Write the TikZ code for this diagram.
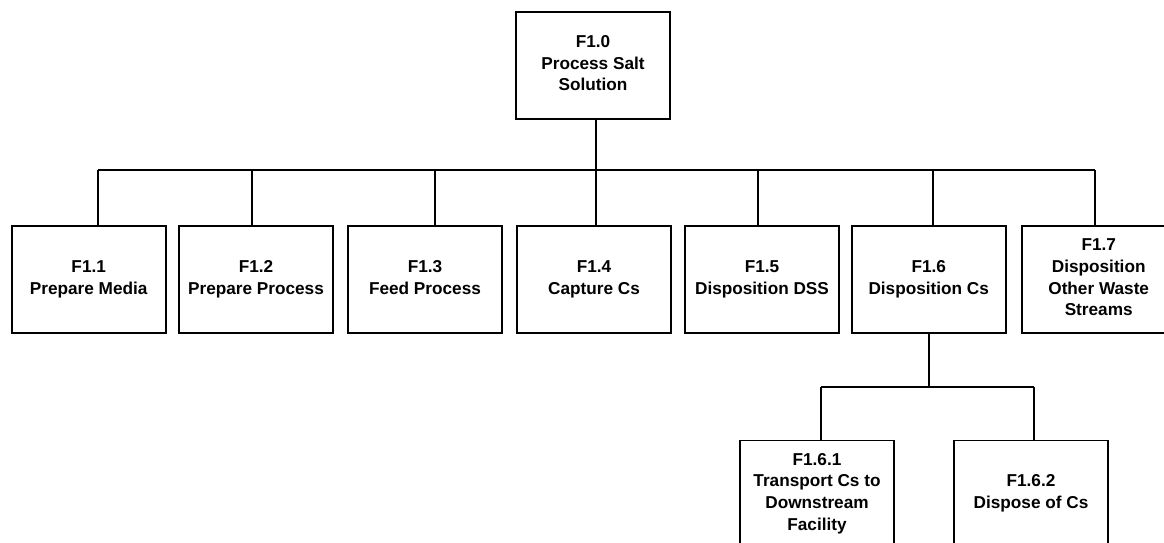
\documentclass[tikz,border=0pt]{standalone}
\usepackage{fontspec}
\setmainfont{Liberation Sans}
\usepackage{tikz}

\begin{document}
\begin{tikzpicture}[x=1pt, y=-1pt,
    box/.style={draw, black, line width=1.8pt, minimum width=154pt, minimum height=107pt,
        inner sep=0pt, align=center, font=\fontsize{17.2}{21.7}\selectfont\bfseries,
        execute at begin node={\rule{0pt}{20pt}},
        execute at end node={\rule[-4.5pt]{0pt}{4.5pt}}},
    link/.style={black, line width=1.6pt}]
    \useasboundingbox (0,0) rectangle (1164,543);
    \node[box] (f10) at (593, 65.5) {F1.0\\Process Salt\\Solution};
    \node[box] (f11) at (88.7, 279.5) {F1.1\\Prepare Media};
    \node[box] (f12) at (256, 279.5) {F1.2\\Prepare Process};
    \node[box] (f13) at (425, 279.5) {F1.3\\Feed Process};
    \node[box] (f14) at (594, 279.5) {F1.4\\Capture Cs};
    \node[box] (f15) at (762, 279.5) {F1.5\\Disposition DSS};
    \node[box] (f16) at (928.7, 279.5) {F1.6\\Disposition Cs};
    \node[box] (f17) at (1098.7, 279.5) {F1.7\\Disposition\\Other Waste\\Streams};
    \node[box] (f161) at (817, 494) {F1.6.1\\Transport Cs to\\Downstream\\Facility};
    \node[box] (f162) at (1031, 494) {F1.6.2\\Dispose of Cs};
    % first level
    \coordinate (bar) at (0, 170);
    \coordinate (df10) at ([xshift=3pt]f10.south);
    \draw[link, line width=2.2pt] (df10) -- (df10 |- bar);
    \foreach \n/\s in {f11/9, f12/-4, f13/10, f14/2, f15/-4, f16/4, f17/-4}
    {
        \coordinate (d\n) at ([xshift=\s pt]\n.north);
        \draw[link] (d\n) -- (d\n |- bar);
    }
    \draw[link] (df11 |- bar) -- (df17 |- bar);
    % second level
    \coordinate (subbar) at (0, 387);
    \draw[link] (f16.south) -- (f16.south |- subbar);
    \foreach \n/\s in {f161/4, f162/3}
    {
        \coordinate (d\n) at ([xshift=\s pt]\n.north);
        \draw[link] (d\n) -- (d\n |- subbar);
    }
    \draw[link] (df161 |- subbar) -- (df162 |- subbar);
\end{tikzpicture}
\end{document}
